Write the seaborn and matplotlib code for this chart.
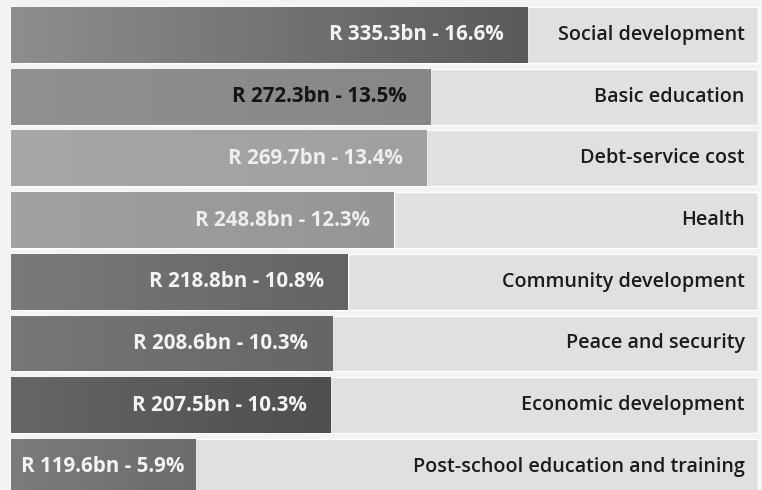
import numpy as np
import pandas as pd
import matplotlib
matplotlib.use("Agg")
import matplotlib.pyplot as plt
from matplotlib.colors import LinearSegmentedColormap
import seaborn as sns

# Budget allocation by function (R billion, share of total)
categories = [
    "Social development",
    "Basic education",
    "Debt-service cost",
    "Health",
    "Community development",
    "Peace and security",
    "Economic development",
    "Post-school education and training",
]
amounts_bn = [335.3, 272.3, 269.7, 248.8, 218.8, 208.6, 207.5, 119.6]
shares_pct = [16.6, 13.5, 13.4, 12.3, 10.8, 10.3, 10.3, 5.9]

# Bar shading (left -> right) and value-label colours
shade_left = ["#8e8e8e", "#909090", "#a7a7a7", "#a1a1a1", "#7a7a7a", "#777777", "#666666", "#7c7c7c"]
shade_right = ["#5a5a5a", "#878787", "#a0a0a0", "#959595", "#646464", "#666666", "#4e4e4e", "#6c6c6c"]
label_colors = ["#f4f4f4", "#151515", "#eeeeee", "#eeeeee", "#f4f4f4", "#f4f4f4", "#f4f4f4", "#f4f4f4"]

df = pd.DataFrame({"category": categories, "amount": amounts_bn, "share": shares_pct})

sns.set_theme(style="white")
plt.rcParams["font.family"] = ["Open Sans", "DejaVu Sans"]

W, H, DPI = 762, 490, 100
fig = plt.figure(figsize=(W / DPI, H / DPI), dpi=DPI, facecolor="#f3f3f3")
ax = fig.add_axes([0, 0, 1, 1])
ax.set_facecolor("#f3f3f3")

x_min, x_max = -7.15, 488.0
track_end = 485.5
bar_h = 0.905

# light track behind every row
sns.barplot(data=df.assign(track=track_end), x="track", y="category", orient="h",
            color="#e0e0e0", width=bar_h, ax=ax, saturation=1, zorder=1)
# value bars
sns.barplot(data=df, x="amount", y="category", orient="h", hue="category",
            palette=shade_right, width=bar_h, ax=ax, saturation=1, legend=False, zorder=2)

ax.set_xlim(x_min, x_max)
ax.set_ylim(7.375, -0.567)
ax.set_axis_off()

# horizontal gradient inside each value bar
value_patches = ax.patches[len(categories):]
for patch, c0, c1 in zip(value_patches, shade_left, shade_right):
    x0, y0 = patch.get_x(), patch.get_y()
    w, h = patch.get_width(), patch.get_height()
    cmap = LinearSegmentedColormap.from_list("g", [c0, c1])
    grad = np.linspace(0, 1, 256).reshape(1, -1)
    im = ax.imshow(grad, cmap=cmap, aspect="auto", extent=(x0, x0 + w, y0 + h, y0),
                   zorder=3, interpolation="bilinear")
    im.set_clip_path(patch)

ax.set_xlim(x_min, x_max)
ax.set_ylim(7.375, -0.567)

fig.canvas.draw()
renderer = fig.canvas.get_renderer()
to_px = ax.transData

for i, (amt, sh) in enumerate(zip(amounts_bn, shares_pct)):
    txt = ax.annotate(f"R {amt:.1f}bn - {sh:.1f}%", xy=(amt, i), xytext=(-17, 0),
                      textcoords="offset points", ha="right", va="center",
                      fontsize=14.8, fontweight="bold", color=label_colors[i], zorder=5)
    bb = txt.get_window_extent(renderer)
    left_px = to_px.transform((0, i))[0]
    right_px = to_px.transform((amt, i))[0]
    if bb.x0 < left_px + 10:
        # short bar: centre the label inside it
        txt.set_ha("center")
        txt.xyann = (-(right_px - left_px) / 2 * 72 / DPI, 0)
    ax.annotate(categories[i], xy=(x_max, i), xytext=(-12.5, 0), textcoords="offset points",
                ha="right", va="center", fontsize=14.2, fontweight="semibold",
                color="#1c1c1c", zorder=5)

fig.savefig("out.png", dpi=DPI, facecolor=fig.get_facecolor())
